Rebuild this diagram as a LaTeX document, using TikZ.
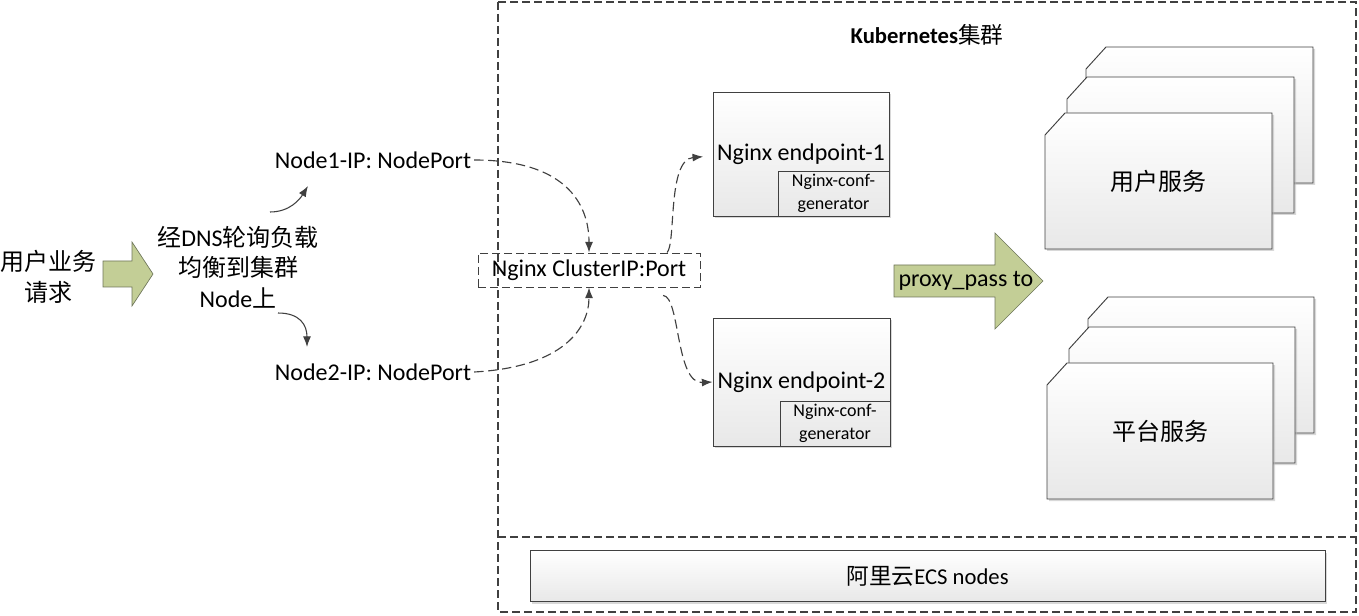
\documentclass[tikz,border=0pt]{standalone}
\usepackage{fontspec}
\setmainfont{Carlito}
\newfontfamily\cjk{Noto Sans CJK SC}
\newcommand{\zh}[1]{{\cjk #1}}
\usetikzlibrary{arrows.meta,shadows}
\definecolor{linegray}{RGB}{64,64,64}
\definecolor{arrowgreen}{RGB}{195,206,150}
\definecolor{arrowedge}{RGB}{110,118,90}

\begin{document}
\begin{tikzpicture}[x=0.75pt, y=-0.75pt, line width=0.7pt,
        every node/.append style={font=\fontsize{18}{23}\selectfont, inner sep=2pt},
        conn/.style={draw=linegray, line width=0.85pt, dash pattern=on 7pt off 3.5pt, -{Latex[length=8pt,width=6pt]}},
        curvearr/.style={draw=linegray, line width=0.8pt, -{Latex[length=8pt,width=6pt]}}]
      \tikzstyle{txt} = [align=center]
      \tikzstyle{boxdash} = [draw=linegray, line width=0.8pt, dash pattern=on 6pt off 3pt]
      \tikzstyle{panel} = [draw=linegray, top color=white, bottom color=black!9,
        drop shadow={shadow xshift=1.5pt, shadow yshift=-1.5pt, fill=black!30, opacity=0.5}]
      \tikzstyle{bigarrow} = [draw=arrowedge, fill=arrowgreen, line width=0.5pt]
      \tikzstyle{small} = [font=\fontsize{13.5}{17}\selectfont, align=center]
      \useasboundingbox (0,0) rectangle (1359,616);

      \draw[boxdash] (498,2) rectangle (1356,612);
      \draw[boxdash] (498,537) -- (1356,537);
      \node (title) [font=\fontsize{17}{20}\selectfont\bfseries] at (927,35) {Kubernetes{\cjk\mdseries 集群}};

      \node (req) [txt] at (48,277) {\zh{用户业务}\\\zh{请求}};
      \draw[bigarrow] (103,261) -- (132,261) -- (132,242) -- (153,274) -- (132,306) -- (132,287) -- (103,287) -- cycle;
      \node (dns) [txt] at (238,267) {\zh{经}DNS\zh{轮询负载}\\\zh{均衡到集群}\\Node\zh{上}};

      \node (n1) at (373,160) {Node1-IP: NodePort};
      \node (n2) at (373,372) {Node2-IP: NodePort};
      \coordinate (up0) at (270,212);
      \coordinate (up1) at (308,186);
      \coordinate (dn0) at (278,313);
      \coordinate (dn1) at (307,347);
      \draw[curvearr] (up0) .. controls (290,212) and (300,199) .. (up1);
      \draw[curvearr] (dn0) .. controls (300,313) and (307,325) .. (dn1);

      \node (cip) [boxdash, line width=0.7pt, minimum width=166.5pt, minimum height=25.5pt] at (589,270) {Nginx ClusterIP:Port};

      \node (ep1) [panel, minimum width=132pt, minimum height=93pt] at (801,154) {Nginx endpoint-1};
      \node (gen1) [draw=linegray, small, minimum width=83.25pt, minimum height=33.75pt, anchor=south east, inner sep=1pt] at (ep1.south east) {Nginx-conf-\\generator};
      \node (ep2) [panel, minimum width=132.75pt, minimum height=96pt] at (801.5,382) {Nginx endpoint-2};
      \node (gen2) [draw=linegray, small, minimum width=82.5pt, minimum height=33.75pt, anchor=south east, inner sep=1pt] at (ep2.south east) {Nginx-conf-\\generator};

      \draw[conn] (n1.east) .. controls +(90,0) and +(0,-50) .. (cip.north);
      \draw[conn] (n2.east) .. controls +(90,-5) and +(0,40) .. (cip.south);
      \draw[conn] ([xshift=-25pt]cip.north east) .. controls +(9,-10) and +(-36,3) .. ([xshift=-7pt,yshift=-2pt]ep1.west);
      \draw[conn] ([xshift=-28pt,yshift=-6pt]cip.south east) .. controls +(17,1) and +(-37,2) .. (ep2.west);

      \draw[bigarrow] (894,265) -- (995,265) -- (995,233) -- (1043,281) -- (995,329) -- (995,297) -- (894,297) -- cycle;
      \node (pp) at (966,281) {proxy\_pass to};

      \foreach \dx/\dy in {41/-66,22/-36,0/0}
        \draw[panel, shift={(\dx,\dy)}] (1045,135) -- (1065,113) -- (1272,113) -- (1272,249) -- (1045,249) -- cycle;
      \node (usvc) at (1158.5,181) {\zh{用户服务}};
      \foreach \dx/\dy in {41/-66,22/-36,0/0}
        \draw[panel, shift={(\dx,\dy)}] (1047,385) -- (1067,363) -- (1273,363) -- (1273,499) -- (1047,499) -- cycle;
      \node (psvc) at (1160,431) {\zh{平台服务}};

      \node (ecs) [panel, minimum width=596.25pt, minimum height=38.25pt, font=\fontsize{17}{20}\selectfont] at (927.5,576) {\zh{阿里云}ECS nodes};
    \end{tikzpicture}
\end{document}
